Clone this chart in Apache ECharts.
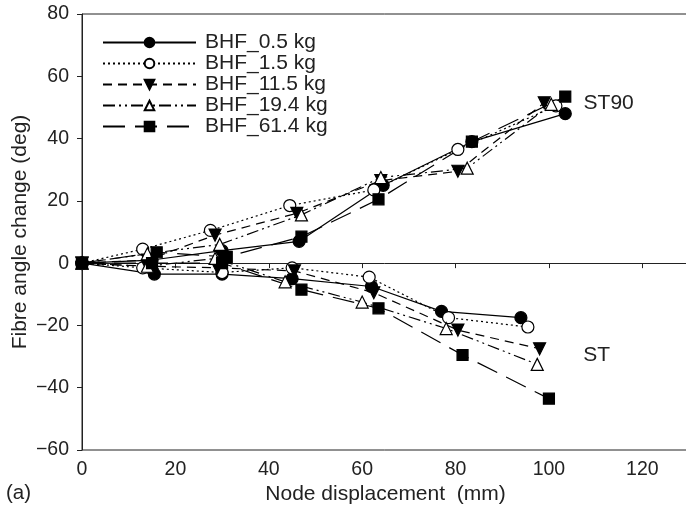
<!DOCTYPE html>
<html><head><meta charset="utf-8">
<script src="https://cdn.jsdelivr.net/npm/echarts@6/dist/echarts.min.js"></script>
<style>html,body{margin:0;padding:0;background:#fff}#c{width:686px;height:512px}</style>
</head><body><div id="c"></div>
<script>
const seriesNames = ['BHF_0.5 kg','BHF_1.5 kg','BHF_11.5 kg','BHF_19.4 kg','BHF_61.4 kg'];
// ST90 branch (upper)
const st90_05  = [[0,0],[15,1],[30,4],[46.5,7],[64.5,25],[83.5,39],[103.5,48]];
const st90_15  = [[0,0],[13,4.5],[27.5,10.5],[44.5,18.5],[62.5,23.5],[80.5,36.5],[101.5,50.5]];
const st90_115 = [[0,0],[14,1],[28.5,9],[46,16],[64,26.5],[80.5,29.5],[99,51.5]];
const st90_194 = [[0,0],[14,3],[29.5,6],[47,15.5],[64,27.5],[82.5,30.5],[100.5,51]];
const st90_614 = [[0,0],[16,3.5],[31,2],[47,8.5],[63.5,20.5],[83.5,39],[103.5,53.5]];
// ST branch (lower)
const st_05  = [[0,0],[15.5,-3.5],[30,-3.5],[45,-5],[62,-7.5],[77,-15.5],[94,-17.5]];
const st_15  = [[0,0],[13,-1.5],[30,-3],[45,-1.5],[61.5,-4.5],[78.5,-17.5],[95.5,-20.5]];
const st_115 = [[0,0],[14,-1],[29,-1.5],[45.5,-2.5],[62.5,-9.5],[80.5,-21.5],[98,-27.5]];
const st_194 = [[0,0],[14,-1],[28.5,1.5],[43.5,-6],[60,-12.5],[78,-21],[97.5,-32.5]];
const st_614 = [[0,0],[15,0],[30,0],[47,-8.5],[63.5,-14.5],[81.5,-29.5],[100,-43.5]];
const annotations = [{text:'ST90', coord:[112.8,51.5]},{text:'ST', coord:[110.2,-29.5]}];

const styles = [
  {symbol:'circle', size:12, fill:'#000', dash:'solid', rot:0},
  {symbol:'circle', size:12, fill:'#fff', dash:[2,3], rot:0},
  {symbol:'triangle', size:12, fill:'#000', dash:[9,6], rot:180},
  {symbol:'triangle', size:12, fill:'#fff', dash:[12,4,2,4,2,4], rot:0},
  {symbol:'rect', size:11, fill:'#000', dash:[22,10], rot:0}
];
const upper = [st90_05, st90_15, st90_115, st90_194, st90_614];
const lower = [st_05, st_15, st_115, st_194, st_614];
const font = 'Liberation Sans, Arial, sans-serif';

const series = [];
seriesNames.forEach((n,i)=>{
  [upper[i], lower[i]].forEach((d,k)=>{
    const s = {
      name:n, type:'line', data:d,
      symbol:styles[i].symbol, symbolSize:styles[i].size, symbolRotate:styles[i].rot,
      showAllSymbol:true,
      lineStyle:{color:'#000', width:1.2, type:styles[i].dash},
      itemStyle:{color:styles[i].fill, borderColor:'#000', borderWidth:1.2, opacity:1},
      emphasis:{disabled:true}, animation:false, z:2
    };
    if (i===0 && k===0) {
      s.markPoint = {
        symbol:'circle', symbolSize:1, itemStyle:{color:'rgba(0,0,0,0)'},
        label:{show:true, position:'inside', color:'#222', fontSize:21, fontFamily:font, formatter:p=>p.name},
        data: annotations.map(a=>({name:a.text, coord:a.coord}))
      };
    }
    series.push(s);
  });
});

const chart = echarts.init(document.getElementById('c'));
chart.setOption({
  backgroundColor:'#fff',
  animation:false,
  grid:{left:82, top:14, width:607, height:436, show:true, borderColor:'#222', borderWidth:1,
        containLabel:false, outerBoundsMode:'none'},
  legend:{
    data:seriesNames, orient:'vertical', left:97, top:27,
    itemWidth:93, itemHeight:12, itemGap:0,
    textStyle:{fontSize:21, lineHeight:21, color:'#222', fontFamily:font, padding:[0,0,0,4]},
    selectedMode:false
  },
  xAxis:{
    type:'value', min:0, max:130, interval:20,
    name:'Node displacement  (mm)', nameLocation:'middle', nameGap:34, nameMoveOverlap:false,
    nameTextStyle:{fontSize:21, color:'#222', fontFamily:font},
    axisLine:{lineStyle:{color:'#222', width:1}},
    axisTick:{show:true, length:5, lineStyle:{color:'#222'}},
    axisLabel:{fontSize:19.5, color:'#222', fontFamily:font, margin:10, formatter:v=> v===130?'':v},
    splitLine:{show:false}
  },
  yAxis:{
    type:'value', min:-60, max:80, interval:20,
    name:'Fibre angle change (deg)', nameLocation:'middle', nameGap:51, nameMoveOverlap:false,
    nameTextStyle:{fontSize:21, color:'#222', fontFamily:font},
    axisLine:{lineStyle:{color:'#222', width:1}},
    axisTick:{show:true, length:5, lineStyle:{color:'#222'}},
    axisLabel:{fontSize:19.5, color:'#222', fontFamily:font, margin:13, formatter:v=> v<0 ? '\u2212'+Math.abs(v) : ''+v},
    splitLine:{show:false}
  },
  graphic:[{type:'text', left:6, top:483, style:{text:'(a)', fontSize:20.5, fill:'#222', fontFamily:font}}],
  series:series
});
</script></body></html>
